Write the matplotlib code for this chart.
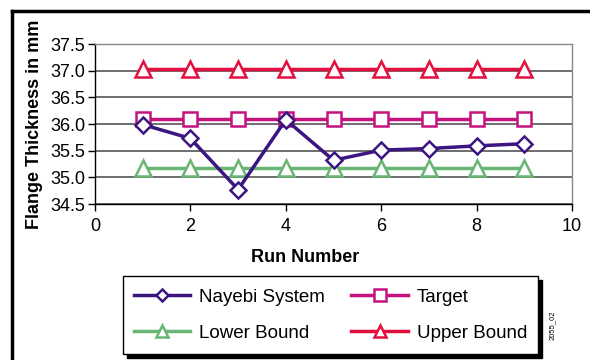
import matplotlib
matplotlib.use("Agg")
import matplotlib.pyplot as plt
from matplotlib.patches import Rectangle
from matplotlib.lines import Line2D

plt.rcParams['font.family'] = ['Liberation Sans', 'DejaVu Sans']

runs = [1, 2, 3, 4, 5, 6, 7, 8, 9]
nayebi = [35.99, 35.73, 34.77, 36.08, 35.32, 35.51, 35.54, 35.59, 35.63]
target = [36.10] * 9
lower = [35.18] * 9
upper = [37.03] * 9

series_names = ["Nayebi System", "Target", "Lower Bound", "Upper Bound"]
colors = ["#3b1680", "#c4137e", "#69b574", "#e3103f"]

fig = plt.figure(figsize=(5.9, 3.6), dpi=100)
ax = fig.add_axes([95/590, 1 - 204/360, (572-95)/590, (204-44)/360])

# outer frame
fig.add_artist(Line2D([12/590, 1.0], [1-11/360, 1-11/360], color='black', lw=2.5, transform=fig.transFigure))
fig.add_artist(Line2D([12/590, 12/590], [1-11/360, 0], color='black', lw=2.5, transform=fig.transFigure))

ax.set_xlim(0, 10)
ax.set_ylim(34.5, 37.5)
ax.set_xticks([0, 2, 4, 6, 8, 10])
yt = [34.5, 35.0, 35.5, 36.0, 36.5, 37.0, 37.5]
ax.set_yticks(yt)
ax.set_yticklabels([f"{v:.1f}" for v in yt])
ax.yaxis.grid(True, color='#555555', lw=1.2)
ax.set_axisbelow(True)
for s in ['top', 'right']:
    ax.spines[s].set_color('#888888')
    ax.spines[s].set_linewidth(1)
for s in ['left', 'bottom']:
    ax.spines[s].set_color('black')
    ax.spines[s].set_linewidth(1)
ax.tick_params(axis='both', labelsize=13, length=5, width=1, direction='out', pad=2)
ax.tick_params(axis='x', pad=5)

h1, = ax.plot(runs, upper, color=colors[3], lw=2.5, marker='^', ms=11, mfc='white', mew=1.8)
h2, = ax.plot(runs, target, color=colors[1], lw=2.5, marker='s', ms=10, mfc='white', mew=1.8)
h3, = ax.plot(runs, lower, color=colors[2], lw=2.5, marker='^', ms=11, mfc='white', mew=1.8)
h4, = ax.plot(runs, nayebi, color=colors[0], lw=2.5, marker='D', ms=8, mfc='white', mew=1.8)

ax.set_xlabel("Run Number", fontsize=13, fontweight='bold')
ax.xaxis.set_label_coords((305-95)/(572-95), -(257-204)/(204-44), transform=ax.transAxes)
ax.xaxis.label.set_va('center')
ax.set_ylabel("Flange Thickness in mm", fontsize=13, fontweight='bold', labelpad=5)

# legend box with shadow
lx0, ly0, lx1, ly1 = 123, 276, 538, 354
fig.add_artist(Rectangle(((lx0+4)/590, 1-(ly1+4)/360), (lx1-lx0)/590, (ly1-ly0)/360,
                         transform=fig.transFigure, facecolor='black', edgecolor='black'))
fig.add_artist(Rectangle((lx0/590, 1-ly1/360), (lx1-lx0)/590, (ly1-ly0)/360,
                         transform=fig.transFigure, facecolor='white', edgecolor='black', lw=1))
leg = fig.legend([h4, h3, h2, h1], [series_names[0], series_names[2], series_names[1], series_names[3]],
                 ncol=2, loc='center',
                 bbox_to_anchor=((lx0+lx1)/2/590, 1-(ly0+ly1)/2/360),
                 frameon=False, fontsize=13.5, handlelength=3.0, handletextpad=0.5,
                 columnspacing=1.4, labelspacing=1.0, markerscale=0.8)

fig.text(552/590, 1-325/360, "2055_02", rotation=90, fontsize=5.5, ha='center', va='center')

fig.savefig("out.png", dpi=100)
